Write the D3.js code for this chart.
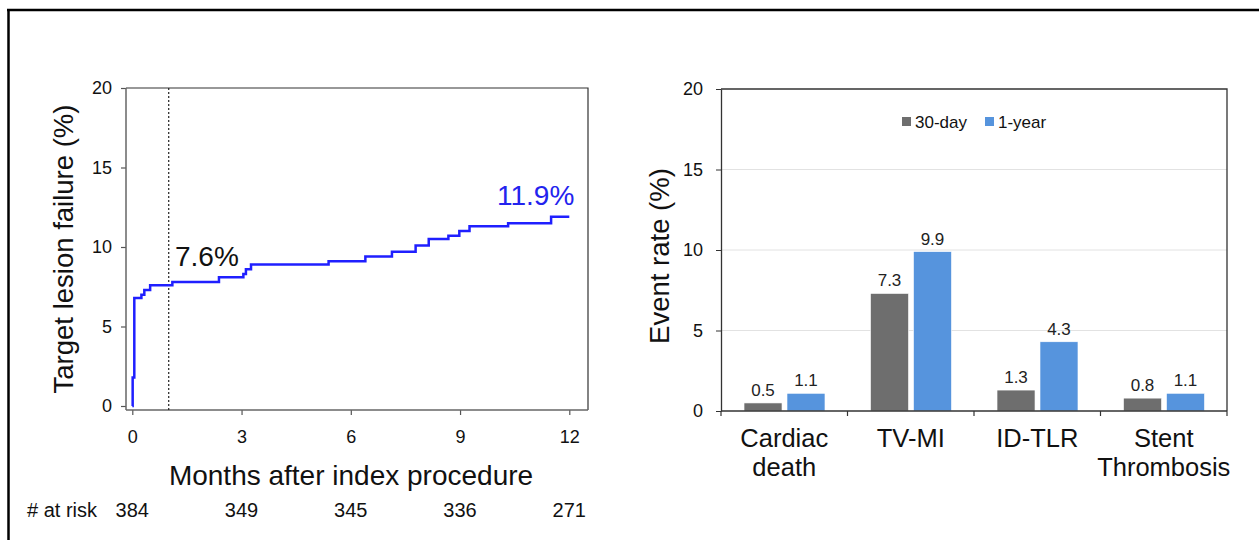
<!DOCTYPE html>
<html><head><meta charset="utf-8">
<script src="https://cdn.jsdelivr.net/npm/d3@7"></script>
<style>
html,body{margin:0;padding:0;background:#fff;}
svg{display:block;font-family:"Liberation Sans",Arial,sans-serif;}
</style></head>
<body>
<svg id="c" width="1259" height="540"></svg>
<script>
// ---- Data ----
const kmTimes  = [0, 0.01, 0.055, 0.25, 0.33, 0.49, 1.10, 2.38, 3.05, 3.12, 3.26, 5.39, 6.40, 7.13, 7.78, 8.14, 8.68, 8.98, 9.26, 10.32, 11.50, 12.0];
const kmValues = [0, 1.8, 6.8, 7.0, 7.3, 7.6, 7.8, 8.1, 8.3, 8.6, 8.9, 9.1, 9.4, 9.7, 10.1, 10.5, 10.7, 11.0, 11.3, 11.5, 11.9, 11.9];
const kmXTicks = [0, 3, 6, 9, 12];
const kmYTicks = [0, 5, 10, 15, 20];
const atRisk   = [384, 349, 345, 336, 271];
const landmarkMonth = 1;
const landmarkLabel = "7.6%";
const finalLabel = "11.9%";

const categories = [["Cardiac","death"],["TV-MI"],["ID-TLR"],["Stent","Thrombosis"]];
const seriesNames = ["30-day","1-year"];
const thirtyDay = [0.5, 7.3, 1.3, 0.8];
const oneYear   = [1.1, 9.9, 4.3, 1.1];
const barYTicks = [0, 5, 10, 15, 20];

// ---- Setup ----
const svg = d3.select("#c");
const FONT = '"Liberation Sans",Arial,sans-serif';

// outer frame
svg.append("line").attr("x1",7).attr("x2",1259).attr("y1",10).attr("y2",10).attr("stroke","#000").attr("stroke-width",2.5);
svg.append("line").attr("x1",8.5).attr("x2",8.5).attr("y1",9).attr("y2",540).attr("stroke","#000").attr("stroke-width",2.5);

// ================= LEFT: KM curve =================
const kx = d3.scaleLinear().domain([0,12]).range([132.3,569.3]);
const ky = d3.scaleLinear().domain([0,20]).range([406,88]);
const boxL = 126, boxR = 588, boxT = 88, boxB = 410;

const gL = svg.append("g");
gL.append("path").attr("d",`M${boxL},${boxT}H${boxR}V${boxB}`).attr("fill","none").attr("stroke","#333").attr("stroke-width",1.2);

const yAxL = gL.append("g").attr("transform",`translate(${boxL},0)`)
  .call(d3.axisLeft(ky).tickValues(kmYTicks).tickSize(5).tickPadding(9).tickSizeOuter(0));
const xAxL = gL.append("g").attr("transform",`translate(0,${boxB})`)
  .call(d3.axisBottom(kx).tickValues(kmXTicks).tickSize(5).tickPadding(15).tickSizeOuter(0));
[yAxL,xAxL].forEach(a=>{
  a.select(".domain").remove();
  a.selectAll("line").attr("stroke","#555").attr("stroke-width",1.2);
  a.selectAll("text").attr("font-family",FONT).attr("font-size",18).attr("fill","#111");
});
gL.append("line").attr("x1",boxL).attr("x2",boxL).attr("y1",boxT).attr("y2",boxB).attr("stroke","#666").attr("stroke-width",1.5);
gL.append("line").attr("x1",boxL).attr("x2",boxR).attr("y1",boxB).attr("y2",boxB).attr("stroke","#666").attr("stroke-width",1.5);

// landmark dotted line
gL.append("line").attr("x1",kx(landmarkMonth)).attr("x2",kx(landmarkMonth))
  .attr("y1",boxT).attr("y2",boxB).attr("stroke","#222").attr("stroke-width",1.2).attr("stroke-dasharray","2,2");

// curve
const kmData = kmTimes.map((t,i)=>[t,kmValues[i]]);
gL.append("path").datum(kmData)
  .attr("d", d3.line().x(d=>kx(d[0])).y(d=>ky(d[1])).curve(d3.curveStepAfter))
  .attr("fill","none").attr("stroke","#1f1fff").attr("stroke-width",2.5);

// annotations
gL.append("text").attr("x",175).attr("y",266).attr("font-size",28).attr("font-family",FONT).attr("fill","#111").text(landmarkLabel);
gL.append("text").attr("x",kx(12)+5).attr("y",205).attr("text-anchor","end").attr("font-size",28).attr("font-family",FONT).attr("fill","#2323ee").text(finalLabel);

// axis titles
gL.append("text").attr("transform",`translate(73,${(boxT+ky(0))/2+2}) rotate(-90)`).attr("text-anchor","middle")
  .attr("font-size",27.5).attr("font-family",FONT).attr("fill","#111").text("Target lesion failure (%)");
gL.append("text").attr("x",(boxL+boxR)/2-6).attr("y",485).attr("text-anchor","middle")
  .attr("font-size",28).attr("font-family",FONT).attr("fill","#111").text("Months after index procedure");

// at risk
gL.append("text").attr("x",27).attr("y",517).attr("font-size",20).attr("font-family",FONT).attr("fill","#111").text("# at risk");
gL.selectAll("text.risk").data(atRisk).join("text").attr("class","risk")
  .attr("x",(d,i)=>kx(kmXTicks[i])).attr("y",517).attr("text-anchor","middle")
  .attr("font-size",20).attr("font-family",FONT).attr("fill","#111").text(d=>d);

// ================= RIGHT: bar chart =================
const pL = 721, pR = 1227;
const by = d3.scaleLinear().domain([0,20]).range([411,89]);
const bx = d3.scaleBand().domain(categories.map(c=>c.join(" "))).range([pL,pR]).padding(0);
const bw = bx.bandwidth();
const bsub = d3.scaleBand().domain(seriesNames).range([bw*0.182, bw*0.822]).paddingInner(0.116);
const colors = {"30-day":"#6e6e6e","1-year":"#5694dd"};

const gR = svg.append("g");
gR.selectAll("line.grid").data(barYTicks.filter(v=>v>0 && v<20)).join("line").attr("class","grid")
  .attr("x1",pL).attr("x2",pR).attr("y1",d=>by(d)).attr("y2",d=>by(d)).attr("stroke","#e2e2e2").attr("stroke-width",1);
gR.append("path").attr("d",`M${pL},${by(20)}H${pR}V${by(0)}`).attr("fill","none").attr("stroke","#333").attr("stroke-width",1.3);

const yAxR = gR.append("g").attr("transform",`translate(${pL},0)`)
  .call(d3.axisLeft(by).tickValues(barYTicks).tickSize(5).tickPadding(13).tickSizeOuter(0));
yAxR.select(".domain").attr("stroke","#333").attr("stroke-width",1.3);
yAxR.selectAll("line").attr("stroke","#333");
yAxR.selectAll("text").attr("font-family",FONT).attr("font-size",18).attr("fill","#111");

// bars
const rows = categories.map((c,i)=>({key:c.join(" "), lines:c, vals:[{s:"30-day",v:thirtyDay[i]},{s:"1-year",v:oneYear[i]}]}));
const grp = gR.selectAll("g.cat").data(rows).join("g").attr("class","cat").attr("transform",d=>`translate(${bx(d.key)},0)`);
grp.selectAll("rect").data(d=>d.vals).join("rect")
  .attr("x",d=>bsub(d.s)).attr("width",bsub.bandwidth())
  .attr("y",d=>by(d.v)).attr("height",d=>by(0)-by(d.v))
  .attr("fill",d=>colors[d.s]).attr("stroke","#fff").attr("stroke-width",0.6);
grp.selectAll("text.val").data(d=>d.vals).join("text").attr("class","val")
  .attr("x",d=>bsub(d.s)+bsub.bandwidth()/2).attr("y",d=>by(d.v)-7).attr("text-anchor","middle")
  .attr("font-size",17).attr("font-family",FONT).attr("fill","#222").text(d=>d.v.toFixed(1));

// category axis
const xAxR = gR.append("g").attr("transform",`translate(0,${by(0)})`);
xAxR.append("line").attr("x1",pL).attr("x2",pR).attr("stroke","#333").attr("stroke-width",1.3);
const catTicks = bx.domain().map(k=>bx(k)).concat([pR]);
xAxR.selectAll("line.tk").data(catTicks).join("line").attr("class","tk")
  .attr("x1",d=>d).attr("x2",d=>d).attr("y1",0).attr("y2",5).attr("stroke","#333").attr("stroke-width",1.2);
const catText = xAxR.selectAll("text.cat").data(rows).join("text").attr("class","cat")
  .attr("x",d=>bx(d.key)+bw/2).attr("y",36).attr("text-anchor","middle")
  .attr("font-size",25.5).attr("font-family",FONT).attr("fill","#111");
catText.selectAll("tspan").data(d=>d.lines).join("tspan")
  .attr("x",function(){return this.parentNode.getAttribute("x");}).attr("dy",(d,i)=>i?29:0).text(d=>d);

// y title
gR.append("text").attr("transform",`translate(669,${by(10)+6}) rotate(-90)`).attr("text-anchor","middle")
  .attr("font-size",27.5).attr("font-family",FONT).attr("fill","#111").text("Event rate (%)");

// legend
const leg = gR.append("g").attr("transform","translate(902,122)");
const legX = [0, 83];
seriesNames.forEach((s,i)=>{
  leg.append("rect").attr("x",legX[i]).attr("y",-5).attr("width",9).attr("height",9).attr("fill",colors[s]);
  leg.append("text").attr("x",legX[i]+13).attr("y",6).attr("font-size",17).attr("font-family",FONT).attr("fill","#111").text(s);
});
</script>
</body></html>
